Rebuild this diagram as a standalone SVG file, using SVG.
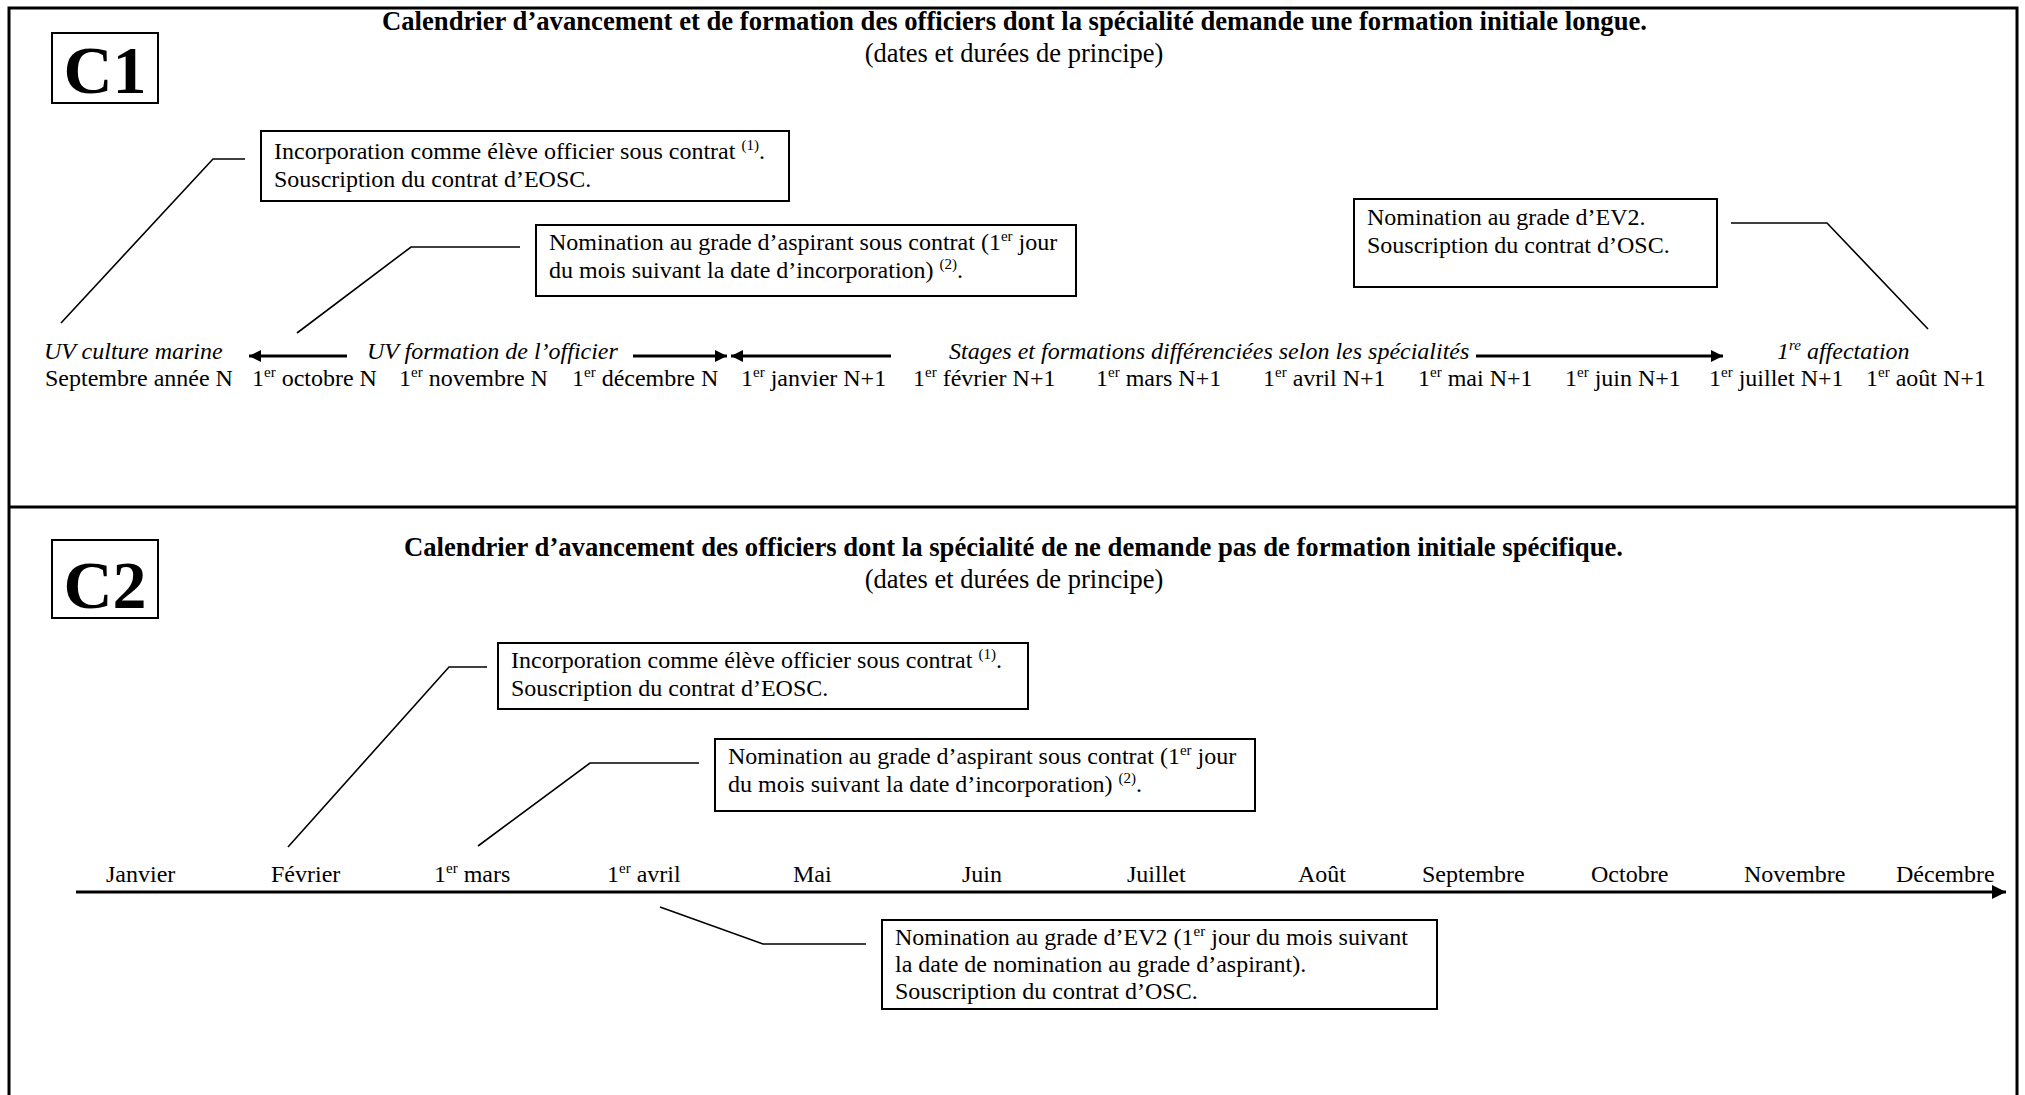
<svg xmlns="http://www.w3.org/2000/svg" width="2025" height="1095" viewBox="0 0 2025 1095">
<defs>
<style>
text{font-family:"Liberation Serif","Times New Roman",serif;fill:#000}
.t{font-size:24px}
.s{font-size:26.5px}
.i{font-size:24px;font-style:italic}
.b{font-size:26.5px;font-weight:bold}
.big{font-size:68px;font-weight:bold}
.sup{font-size:15px}
.box{fill:#fff;stroke:#000;stroke-width:2}
.frame{fill:none;stroke:#000;stroke-width:3}
.lead{fill:none;stroke:#000;stroke-width:1.6}
.arr{fill:none;stroke:#000;stroke-width:2.8}
</style>
<marker id="ah" viewBox="0 0 10 10" refX="10" refY="5" markerUnits="userSpaceOnUse" markerWidth="22" markerHeight="12" orient="auto">
<path d="M0,0 L10,5 L0,10 Z" fill="#000"/>
</marker>
<marker id="ah2" viewBox="0 0 10 10" refX="10" refY="5" markerUnits="userSpaceOnUse" markerWidth="26" markerHeight="14" orient="auto">
<path d="M0,0 L10,5 L0,10 Z" fill="#000"/>
</marker>
</defs>
<rect width="2025" height="1095" fill="#fff"/>

<g id="frame">
<path class="frame" d="M9,1100 V8 H2017 V1100"/>
<line class="frame" x1="9" y1="507" x2="2017" y2="507"/>
</g>

<!-- Section C1 -->
<g id="c1-label">
<rect class="box" x="52" y="33" width="106" height="70"/>
<text class="big" x="105" y="93" text-anchor="middle">C1</text>
</g>
<g id="c1-title">
<text class="b" x="382" y="30" textLength="1265" lengthAdjust="spacingAndGlyphs">Calendrier d’avancement et de formation des officiers dont la spécialité demande une formation initiale longue.</text>
<text class="s" x="1014" y="62" text-anchor="middle">(dates et durées de principe)</text>
</g>

<g id="c1-incorporation">
<rect class="box" x="261" y="131" width="528" height="70"/>
<text class="t" x="274" y="159">Incorporation comme élève officier sous contrat <tspan class="sup" dy="-9">(1)</tspan><tspan dy="9">.</tspan></text>
<text class="t" x="274" y="187">Souscription du contrat d’EOSC.</text>
</g>
<g id="c1-aspirant">
<rect class="box" x="536" y="225" width="540" height="71"/>
<text class="t" x="549" y="250">Nomination au grade d’aspirant sous contrat (1<tspan class="sup" dy="-9">er</tspan><tspan dy="9"> jour</tspan></text>
<text class="t" x="549" y="278">du mois suivant la date d’incorporation) <tspan class="sup" dy="-9">(2)</tspan><tspan dy="9">.</tspan></text>
</g>
<g id="c1-ev2">
<rect class="box" x="1354" y="199" width="363" height="88"/>
<text class="t" x="1367" y="225">Nomination au grade d’EV2.</text>
<text class="t" x="1367" y="253">Souscription du contrat d’OSC.</text>
</g>

<g id="c1-timeline">
<text class="i" x="44" y="359">UV culture marine</text>
<text class="i" x="367" y="359">UV formation de l’officier</text>
<text class="i" x="949" y="359">Stages et formations différenciées selon les spécialités</text>
<text class="i" x="1777" y="359">1<tspan class="sup" dy="-9">re</tspan><tspan dy="9"> affectation</tspan></text>

<text class="t" x="45" y="386">Septembre année N</text>
<text class="t" x="252" y="386">1<tspan class="sup" dy="-9">er</tspan><tspan dy="9"> octobre N</tspan></text>
<text class="t" x="399" y="386">1<tspan class="sup" dy="-9">er</tspan><tspan dy="9"> novembre N</tspan></text>
<text class="t" x="572" y="386">1<tspan class="sup" dy="-9">er</tspan><tspan dy="9"> décembre N</tspan></text>
<text class="t" x="741" y="386">1<tspan class="sup" dy="-9">er</tspan><tspan dy="9"> janvier N+1</tspan></text>
<text class="t" x="913" y="386">1<tspan class="sup" dy="-9">er</tspan><tspan dy="9"> février N+1</tspan></text>
<text class="t" x="1096" y="386">1<tspan class="sup" dy="-9">er</tspan><tspan dy="9"> mars N+1</tspan></text>
<text class="t" x="1263" y="386">1<tspan class="sup" dy="-9">er</tspan><tspan dy="9"> avril N+1</tspan></text>
<text class="t" x="1418" y="386">1<tspan class="sup" dy="-9">er</tspan><tspan dy="9"> mai N+1</tspan></text>
<text class="t" x="1565" y="386">1<tspan class="sup" dy="-9">er</tspan><tspan dy="9"> juin N+1</tspan></text>
<text class="t" x="1709" y="386">1<tspan class="sup" dy="-9">er</tspan><tspan dy="9"> juillet N+1</tspan></text>
<text class="t" x="1866" y="386">1<tspan class="sup" dy="-9">er</tspan><tspan dy="9"> août N+1</tspan></text>
</g>

<!-- Section C2 -->
<g id="c2-label">
<rect class="box" x="52" y="540" width="106" height="78"/>
<text class="big" x="105" y="608" text-anchor="middle">C2</text>
</g>
<g id="c2-title">
<text class="b" x="404" y="556" textLength="1219" lengthAdjust="spacingAndGlyphs">Calendrier d’avancement des officiers dont la spécialité de ne demande pas de formation initiale spécifique.</text>
<text class="s" x="1014" y="588" text-anchor="middle">(dates et durées de principe)</text>
</g>
<g id="c2-incorporation">
<rect class="box" x="498" y="643" width="530" height="66"/>
<text class="t" x="511" y="668">Incorporation comme élève officier sous contrat <tspan class="sup" dy="-9">(1)</tspan><tspan dy="9">.</tspan></text>
<text class="t" x="511" y="696">Souscription du contrat d’EOSC.</text>
</g>
<g id="c2-aspirant">
<rect class="box" x="715" y="739" width="540" height="72"/>
<text class="t" x="728" y="764">Nomination au grade d’aspirant sous contrat (1<tspan class="sup" dy="-9">er</tspan><tspan dy="9"> jour</tspan></text>
<text class="t" x="728" y="792">du mois suivant la date d’incorporation) <tspan class="sup" dy="-9">(2)</tspan><tspan dy="9">.</tspan></text>
</g>
<g id="c2-ev2">
<rect class="box" x="882" y="920" width="555" height="89"/>
<text class="t" x="895" y="945">Nomination au grade d’EV2 (1<tspan class="sup" dy="-9">er</tspan><tspan dy="9"> jour du mois suivant</tspan></text>
<text class="t" x="895" y="972">la date de nomination au grade d’aspirant).</text>
<text class="t" x="895" y="999">Souscription du contrat d’OSC.</text>
</g>
<g id="c2-months">
<text class="t" x="106" y="882">Janvier</text>
<text class="t" x="271" y="882">Février</text>
<text class="t" x="434" y="882">1<tspan class="sup" dy="-9">er</tspan><tspan dy="9"> mars</tspan></text>
<text class="t" x="607" y="882">1<tspan class="sup" dy="-9">er</tspan><tspan dy="9"> avril</tspan></text>
<text class="t" x="793" y="882">Mai</text>
<text class="t" x="962" y="882">Juin</text>
<text class="t" x="1127" y="882">Juillet</text>
<text class="t" x="1298" y="882">Août</text>
<text class="t" x="1422" y="882">Septembre</text>
<text class="t" x="1591" y="882">Octobre</text>
<text class="t" x="1744" y="882">Novembre</text>
<text class="t" x="1896" y="882">Décembre</text>
</g>

<g id="connectors">
<polyline class="lead" points="245,159 213,159 61,323"/>
<polyline class="lead" points="520,247 411,247 297,333"/>
<polyline class="lead" points="1731,223 1827,223 1928,329"/>
<line class="arr" x1="347" y1="356" x2="249" y2="356" marker-end="url(#ah)"/>
<line class="arr" x1="633" y1="356" x2="727" y2="356" marker-end="url(#ah)"/>
<line class="arr" x1="891" y1="356" x2="731" y2="356" marker-end="url(#ah)"/>
<line class="arr" x1="1476" y1="356" x2="1723" y2="356" marker-end="url(#ah)"/>
<polyline class="lead" points="487,667 449,667 288,847"/>
<polyline class="lead" points="699,763 590,763 478,846"/>
<polyline class="lead" points="660,907 763,944 866,944"/>
<line class="arr" x1="76" y1="892" x2="2006" y2="892" stroke-width="3" marker-end="url(#ah2)"/>
</g>
</svg>
